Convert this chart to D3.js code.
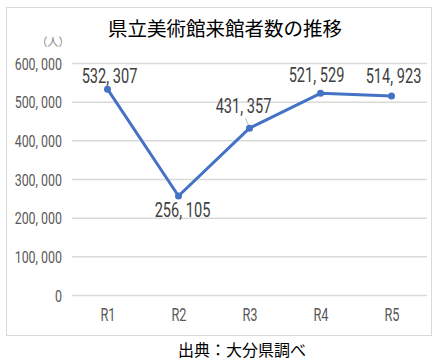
<!DOCTYPE html>
<html>
<head>
<meta charset="utf-8">
<script src="https://cdn.jsdelivr.net/npm/d3@7"></script>
<style>
  body { margin: 0; background: #fff; }
  svg { display: block; }
  .tick text { font-family: Roboto, "Liberation Sans", sans-serif; fill: #595959; font-size: 17px; }
  .lbl { font-family: Roboto, "Liberation Sans", sans-serif; fill: #404040; font-size: 20px; }
</style>
</head>
<body>
<svg width="436" height="361"></svg>
<script>
// data
var years = ["R1", "R2", "R3", "R4", "R5"];
var visitors = [532307, 256105, 431357, 521529, 514923];
var yTicks = [0, 100000, 200000, 300000, 400000, 500000, 600000];

var svg = d3.select("svg"),
    margin = { top: 63, left: 72 },
    width = 427 - margin.left,
    height = 295 - margin.top,
    squeeze = 0.73; // narrow look of the original font

// chart frame
svg.append("rect")
    .attr("x", 6.5).attr("y", 7.5)
    .attr("width", 425).attr("height", 328)
    .attr("fill", "#fff").attr("stroke", "#d9d9d9");

svg.append("text")
    .attr("x", 225).attr("y", 36)
    .attr("text-anchor", "middle")
    .style("font-family", "'Noto Sans CJK JP', sans-serif")
    .style("font-size", "19.5px")
    .attr("fill", "#000")
    .text("県立美術館来館者数の推移");

svg.append("text")
    .attr("x", 53).attr("y", 46)
    .attr("text-anchor", "middle")
    .style("font-family", "'Noto Sans CJK JP', sans-serif")
    .style("font-size", "11px")
    .attr("fill", "#7f7f7f")
    .text("（人）");

var g = svg.append("g")
    .attr("transform", "translate(" + margin.left + "," + margin.top + ")");

var xScale = d3.scalePoint().domain(years).range([0, width]).padding(0.5);
var yScale = d3.scaleLinear().domain([0, 600000]).range([height, 0]);

var fmt = function(d) { return d3.format(",")(d).replace(/,/g, ", "); };

// y axis with gridlines
var yAxis = d3.axisLeft(yScale)
    .tickValues(yTicks)
    .tickSize(-width)
    .tickFormat(fmt);

var yG = g.append("g").call(yAxis);
yG.select(".domain").remove();
yG.selectAll(".tick line").attr("stroke", "#d9d9d9").attr("stroke-width", 1.5);
yG.selectAll(".tick text")
    .attr("x", -10 / squeeze)
    .attr("dy", "0.36em")
    .attr("transform", "scale(" + squeeze + ",1)");

var xAxis = d3.axisBottom(xScale).tickSize(0).tickPadding(14);
var xG = g.append("g").attr("transform", "translate(0," + height + ")").call(xAxis);
xG.select(".domain").remove();
xG.selectAll(".tick text")
    .style("font-size", "17.5px")
    .attr("transform", "scale(" + squeeze + ",1)");

var line = d3.line()
    .x(function(d, i) { return xScale(years[i]); })
    .y(function(d) { return yScale(d); });

// leader line for R3 label
g.append("line")
    .attr("x1", xScale("R3") - 1).attr("y1", yScale(visitors[2]) - 3)
    .attr("x2", xScale("R3") - 4).attr("y2", yScale(visitors[2]) - 10)
    .attr("stroke", "#bfbfbf").attr("stroke-width", 1);

g.append("path")
    .datum(visitors)
    .attr("fill", "none")
    .attr("stroke", "#4472c4")
    .attr("stroke-width", 3)
    .attr("stroke-linejoin", "round")
    .attr("d", line);

g.selectAll("circle.pt")
    .data(visitors)
    .enter().append("circle")
    .attr("class", "pt")
    .attr("cx", function(d, i) { return xScale(years[i]); })
    .attr("cy", function(d) { return yScale(d); })
    .attr("r", 3.5)
    .attr("fill", "#4472c4");

// label offsets (dx, dy of baseline) relative to the point
var offsets = [[2, -6], [4, 21], [-6, -15], [-4, -11], [2, -13]];
g.selectAll("text.lbl")
    .data(visitors)
    .enter().append("text")
    .attr("class", "lbl")
    .attr("text-anchor", "middle")
    .attr("transform", function(d, i) {
        return "translate(" + (xScale(years[i]) + offsets[i][0]) + "," +
            (yScale(d) + offsets[i][1]) + ") scale(" + squeeze + ",1)";
    })
    .text(fmt);

svg.append("text")
    .attr("x", 242).attr("y", 356)
    .attr("text-anchor", "middle")
    .style("font-family", "'Noto Sans CJK JP', sans-serif")
    .style("font-size", "16px")
    .attr("fill", "#000")
    .text("出典：大分県調べ");
</script>
</body>
</html>
